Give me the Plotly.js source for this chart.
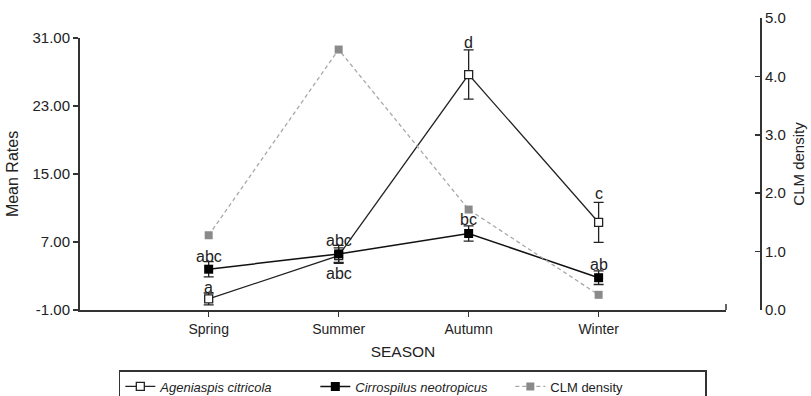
<!DOCTYPE html>
<html>
<head>
<meta charset="utf-8">
<script src="https://cdn.plot.ly/plotly-3.0.1.min.js"></script>
<style>html,body{margin:0;padding:0;background:#fff;}#chart{width:811px;height:396px;}</style>
</head>
<body>
<div id="chart"></div>
<script>
// ---- data ----
var categories = ['Spring', 'Summer', 'Autumn', 'Winter'];
var ageniaspis = [0.3, 5.4, 26.7, 9.3];
var ageniaspisErr = [0.7, 0.9, 2.9, 2.35];
var cirrospilus = [3.8, 5.6, 8.0, 2.8];
var cirrospilusErr = [0.9, 1.0, 0.9, 0.8];
var clmDensity = [1.28, 4.46, 1.72, 0.26];
var leftTicks = [-1, 7, 15, 23, 31];
var leftTickText = ['-1.00', '7.00', '15.00', '23.00', '31.00'];
var rightTicks = [0, 1, 2, 3, 4, 5];
var rightTickText = ['0.0', '1.0', '2.0', '3.0', '4.0', '5.0'];
// significance letters
var letterCat = ['Spring', 'Spring', 'Summer', 'Summer', 'Autumn', 'Autumn', 'Winter', 'Winter'];
var letterY = [5.3, 1.6, 7.2, 3.35, 30.5, 9.7, 12.7, 4.4];
var letterText = ['abc', 'a', 'abc', 'abc', 'd', 'bc', 'c', 'ab'];

var FONT = 'Liberation Sans, Arial, sans-serif';
var AX = '#333';

var traces = [
  {
    x: categories, y: clmDensity, type: 'scatter', mode: 'lines+markers',
    name: 'CLM density', legendrank: 3,
    line: {color: '#a8a8a8', width: 1.3, dash: '4px,3px'},
    marker: {symbol: 'square', size: 8, color: '#8a8a8a'},
    xaxis: 'x', yaxis: 'y2'
  },
  {
    x: categories, y: ageniaspis, type: 'scatter', mode: 'lines+markers',
    name: '<i>Ageniaspis citricola</i>', legendrank: 1,
    line: {color: '#222', width: 1.3},
    marker: {symbol: 'square', size: 8, color: '#fff', line: {width: 1.3, color: '#222'}},
    error_y: {type: 'data', array: ageniaspisErr, visible: true, color: '#222', thickness: 1.3, width: 5},
    xaxis: 'x', yaxis: 'y'
  },
  {
    x: categories, y: cirrospilus, type: 'scatter', mode: 'lines+markers',
    name: '<i>Cirrospilus neotropicus</i>', legendrank: 2,
    line: {color: '#111', width: 1.5},
    marker: {symbol: 'square', size: 9, color: '#000'},
    error_y: {type: 'data', array: cirrospilusErr, visible: true, color: '#222', thickness: 1.3, width: 5},
    xaxis: 'x', yaxis: 'y'
  }
];

var annotations = letterText.map(function (t, i) {
  return {
    x: letterCat[i], y: letterY[i], xref: 'x', yref: 'y', text: t,
    showarrow: false, xanchor: 'center', yanchor: 'middle',
    font: {family: FONT, size: 16, color: '#222'}
  };
});

var layout = {
  width: 811, height: 396,
  margin: {l: 80, r: 50, t: 18, b: 86, autoexpand: false},
  paper_bgcolor: '#fff', plot_bgcolor: 'rgba(0,0,0,0)',
  font: {family: FONT, color: '#222', size: 14},
  showlegend: true,
  xaxis: {
    type: 'category', categoryorder: 'array', categoryarray: categories,
    domain: [0, 0.9486], range: [-0.99, 3.98], anchor: 'y',
    showgrid: false, zeroline: false,
    showline: true, linecolor: AX, linewidth: 2,
    ticks: 'outside', ticklen: 5, tickcolor: AX, tickwidth: 1.5,
    tickfont: {family: FONT, size: 14, color: '#222'},
    title: {text: 'SEASON', font: {family: FONT, size: 15.5, color: '#222'}, standoff: 10}
  },
  yaxis: {
    domain: [0, 0.9315], range: [-1, 31], anchor: 'x',
    tickvals: leftTicks, ticktext: leftTickText,
    showgrid: false, zeroline: false,
    showline: true, linecolor: AX, linewidth: 2,
    ticks: 'outside', ticklen: 5, tickcolor: AX, tickwidth: 1.5,
    tickfont: {family: FONT, size: 15, color: '#222'},
    title: {text: 'Mean Rates', font: {family: FONT, size: 16, color: '#222'}, standoff: 10}
  },
  yaxis2: {
    domain: [0, 1], range: [0, 5], anchor: 'free', position: 1, side: 'right',
    tickvals: rightTicks, ticktext: rightTickText,
    showgrid: false, zeroline: false,
    showline: true, linecolor: AX, linewidth: 2,
    ticks: 'inside', ticklen: 5, tickcolor: AX, tickwidth: 1.5,
    tickfont: {family: FONT, size: 15, color: '#222'},
    title: {text: 'CLM density', font: {family: FONT, size: 15, color: '#222'}, standoff: 8}
  },
  shapes: [{
    type: 'line', xref: 'paper', yref: 'y', x0: 0.9486, x1: 0.9486,
    ysizemode: 'pixel', yanchor: -1, y0: 0, y1: 6,
    line: {color: AX, width: 1.5}
  }],
  legend: {
    orientation: 'h', x: 0.057, y: -0.2055, xanchor: 'left', yanchor: 'top',
    bordercolor: '#333', borderwidth: 1.5, bgcolor: '#fff',
    font: {family: FONT, size: 13, color: '#222'},
    entrywidth: 150, traceorder: 'normal'
  },
  annotations: annotations
};

Plotly.newPlot('chart', traces, layout, {displayModeBar: false, staticPlot: true});
</script>
</body>
</html>
